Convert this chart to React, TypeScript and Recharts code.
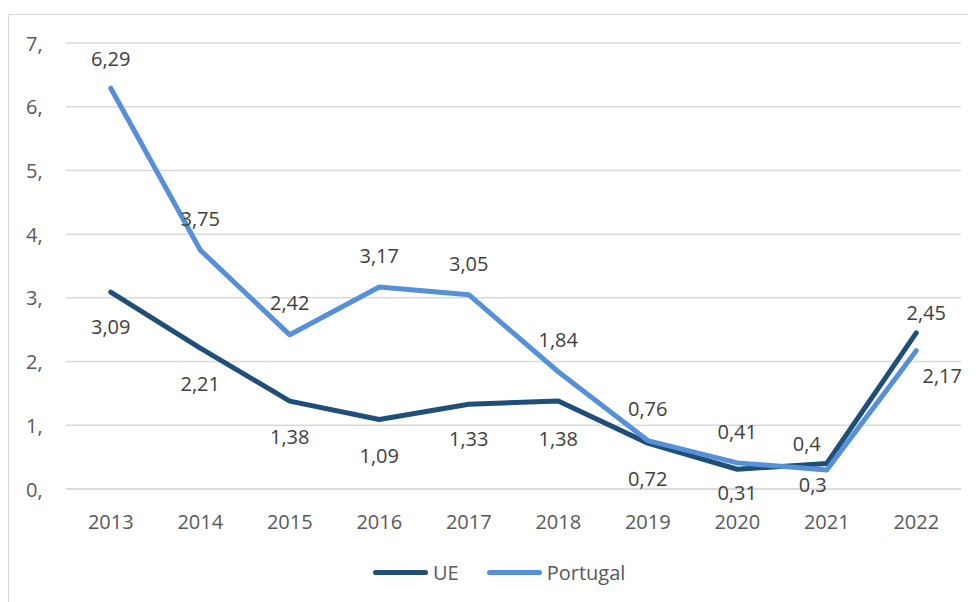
import React from 'react';
import { LineChart, Line, XAxis, YAxis, CartesianGrid } from 'recharts';

const years = ['2013', '2014', '2015', '2016', '2017', '2018', '2019', '2020', '2021', '2022'];
const ueValues = [3.09, 2.21, 1.38, 1.09, 1.33, 1.38, 0.72, 0.31, 0.4, 2.45];
const portugalValues = [6.29, 3.75, 2.42, 3.17, 3.05, 1.84, 0.76, 0.41, 0.3, 2.17];
const yTicks = [0, 1, 2, 3, 4, 5, 6, 7];

// label placement, like the manually nudged labels in the original
const ueLabelDx = [0, 0, 0, 0, 0, 0, 0, 0, -20, 10];
const ueLabelDy = [34, 35, 35, 36, 34, 37, 35, 23, -20, -20];
const ptLabelDx = [0, 0, 0, 0, 0, 0, 0, 0, -14, 26];
const ptLabelDy = [-30, -32, -32, -32, -31, -32, -32, -31, 15, 25];

const UE_COLOR = '#1F4E79';
const PT_COLOR = '#5590D8';
const FONT = '"Open Sans", sans-serif';

const data = years.map((year, i) => ({
  year,
  UE: ueValues[i],
  Portugal: portugalValues[i],
}));

const fmt = (v: number) => String(v).replace('.', ',');

const makeLabel = (dxs: number[], dys: number[]) => (props: any) => {
  const { x, y, index, value } = props;
  return (
    <text
      key={`lbl-${index}`}
      x={x + dxs[index]}
      y={y + dys[index]}
      textAnchor="middle"
      dominantBaseline="central"
      fontFamily={FONT}
      fontSize={20}
      fill="#404040"
    >
      {fmt(value)}
    </text>
  );
};

const XTick = (props: any) => {
  const { x, y, payload } = props;
  return (
    <text x={x} y={y + 32} textAnchor="middle" dominantBaseline="central" fontFamily={FONT} fontSize={20} fill="#595959">
      {payload.value}
    </text>
  );
};

const YTick = (props: any) => {
  const { y, payload } = props;
  return (
    <text x={18} y={y} textAnchor="start" dominantBaseline="central" fontFamily={FONT} fontSize={20} fill="#595959">
      {payload.value},
    </text>
  );
};

const LegendItem = ({ color, name }: { color: string; name: string }) => (
  <div style={{ display: 'flex', alignItems: 'center' }}>
    <div style={{ width: 55, height: 5, borderRadius: 3, background: color }} />
    <span style={{ marginLeft: 5, fontFamily: FONT, fontSize: 20, color: '#595959' }}>{name}</span>
  </div>
);

export default function App() {
  return (
    <div style={{ position: 'relative', width: 968, height: 594, overflow: 'hidden', background: '#fff' }}>
      <div
        style={{
          position: 'absolute',
          left: 0,
          top: 6,
          width: 1100,
          height: 700,
          border: '1px solid #D9D9D9',
        }}
      />
      <div style={{ position: 'absolute', left: 0, top: 0 }}>
        <LineChart width={968} height={594} data={data} margin={{ top: 35, right: 15, left: 0, bottom: 73 }}>
          <CartesianGrid vertical={false} stroke="#D9D9D9" strokeWidth={1.5} />
          <XAxis
            dataKey="year"
            height={40}
            tickSize={0}
            tickMargin={0}
            tickLine={false}
            padding={{ left: 44.75, right: 44.75 }}
            axisLine={{ stroke: '#D9D9D9', strokeWidth: 1.5 }}
            tick={<XTick />}
            interval={0}
          />
          <YAxis
            width={58}
            domain={[0, 7]}
            ticks={yTicks}
            axisLine={false}
            tickLine={false}
            tick={<YTick />}
          />
          <Line
            type="linear"
            dataKey="UE"
            stroke={UE_COLOR}
            strokeWidth={5}
            strokeLinejoin="round"
            strokeLinecap="round"
            dot={false}
            isAnimationActive={false}
            label={makeLabel(ueLabelDx, ueLabelDy)}
          />
          <Line
            type="linear"
            dataKey="Portugal"
            stroke={PT_COLOR}
            strokeWidth={5}
            strokeLinejoin="round"
            strokeLinecap="round"
            dot={false}
            isAnimationActive={false}
            label={makeLabel(ptLabelDx, ptLabelDy)}
          />
        </LineChart>
      </div>
      <div style={{ position: 'absolute', left: 365, top: 551, display: 'flex', gap: 28 }}>
        <LegendItem color={UE_COLOR} name="UE" />
        <LegendItem color={PT_COLOR} name="Portugal" />
      </div>
    </div>
  );
}
